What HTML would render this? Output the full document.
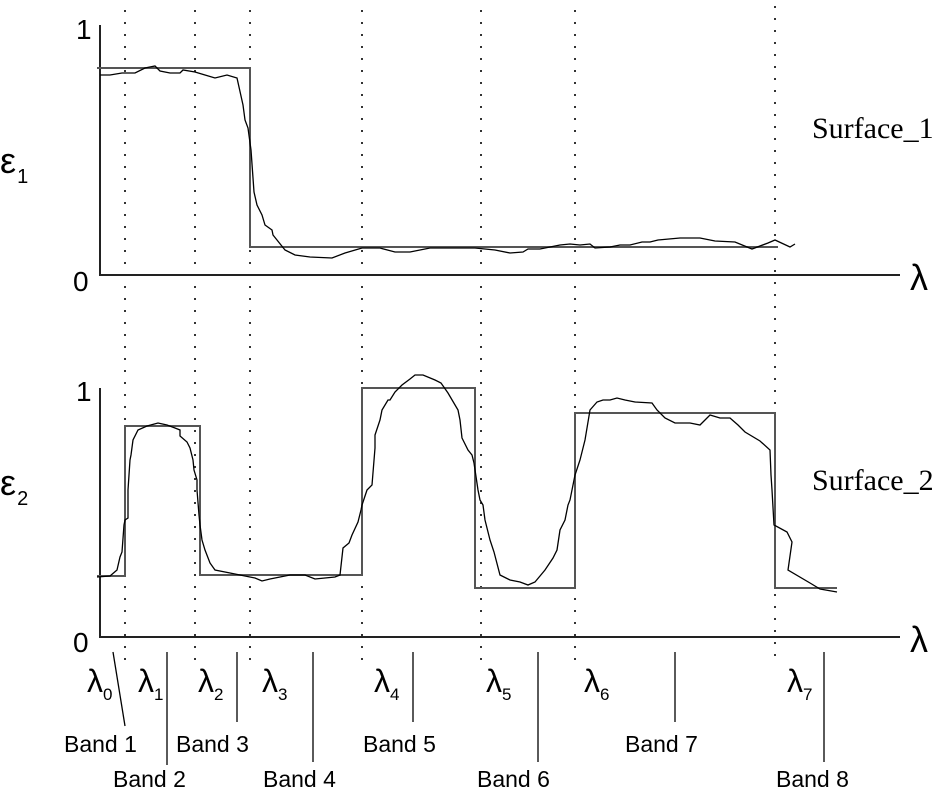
<!DOCTYPE html>
<html><head><meta charset="utf-8"><style>
body{margin:0;background:#fff}
svg{display:block}
.s{font-family:"Liberation Sans",sans-serif}
.r{font-family:"Liberation Serif",serif}
</style></head><body>
<svg width="944" height="788" viewBox="0 0 944 788" xmlns="http://www.w3.org/2000/svg">
<g stroke="#333" stroke-width="2" stroke-dasharray="2,10" fill="none">
<line x1="125" y1="10" x2="125" y2="662"/>
<line x1="195" y1="10" x2="195" y2="662"/>
<line x1="250" y1="10" x2="250" y2="662"/>
<line x1="362" y1="10" x2="362" y2="662"/>
<line x1="481" y1="10" x2="481" y2="662"/>
<line x1="575" y1="10" x2="575" y2="662"/>
<line x1="775" y1="6" x2="775" y2="662"/>
</g>
<g stroke="#222" stroke-width="2" fill="none">
<polyline points="100,25 100,275 900,275"/>
<polyline points="100,388 100,637 900,637"/>
</g>
<g stroke="#555" stroke-width="2" fill="none">
<polyline points="97,68 250,68 250,247 778,247"/>
<polyline points="97,576 125,576 125,426 200,426 200,575 362,575 362,388 475,388 475,588 575,588 575,413 775,413 775,588 837,588"/>
</g>
<g stroke="#000" stroke-width="1.3" fill="none">
<polyline points="100,75 110,75 122,73 135,73 145,68 155,66 160,71 170,73 180,73 183,70 195,72 205,75 215,78 227,75 237,78 243,105 245,120 248,128 251,150 254,192 257,205 262,215 265,225 272,230 273,235 285,250 295,255 310,257 332,258 345,253 362,248 380,248 395,252 410,252 430,248 475,248 495,250 510,253 523,252 528,249 540,249 550,247 560,245 570,244 580,245 590,244 595,248 610,247 620,245 630,245 642,242 650,242 658,240 680,238 700,238 715,241 735,242 752,249 768,243 775,240 790,247 795,244"/>
<polyline points="97,577 110,576 117,570 120,557 122,552 124,525 125,520 128,518 128,490 130,460 131,455 133,440 138,430 147,426 158,423 167,425 175,428 180,430 180,436 187,442 190,448 193,460 194,470 197,480 197,490 199,515 200,525 202,540 205,550 210,563 215,570 230,573 255,578 262,581 270,579 290,575 305,575 315,579 335,577 340,575 343,548 349,543 352,535 358,522 361,510 362,505 367,490 372,485 375,448 375,435 380,420 382,410 388,400 390,400 395,392 402,385 410,379 415,375 423,375 435,380 441,383 448,393 458,410 460,420 462,438 468,450 472,455 474,463 478,490 480,500 483,505 485,520 490,540 494,552 500,575 510,580 520,582 528,585 535,582 545,570 553,558 557,550 560,530 565,520 568,505 570,500 575,475 580,460 585,440 590,410 597,402 603,400 610,400 617,398 625,400 635,402 652,403 657,410 665,418 675,423 690,423 700,425 710,415 720,418 730,418 738,425 745,432 760,441 770,450 771,475 772,490 774,525 787,532 792,542 788,570 810,583 820,589 837,592"/>
</g>
<g class="s" font-size="28" fill="#000">
<text x="76" y="39">1</text>
<text x="73" y="291">0</text>
<text x="76" y="401">1</text>
<text x="73" y="652">0</text>
</g>
<g class="s" fill="#000">
<text x="0" y="173" font-size="36">ε<tspan font-size="20" dx="1" dy="10">1</tspan></text>
<text x="0" y="495" font-size="36">ε<tspan font-size="20" dx="1" dy="10">2</tspan></text>
</g>
<g class="r" font-size="30" fill="#000">
<text x="812" y="138">Surface_1</text>
<text x="812" y="490">Surface_2</text>
</g>
<g class="s" font-size="36" fill="#000">
<text x="910" y="290">λ</text>
<text x="910" y="652">λ</text>
</g>
<g class="s" font-size="32" fill="#000">
<text x="87" y="692">λ<tspan font-size="17" dy="8">0</tspan></text>
<text x="138" y="692">λ<tspan font-size="17" dy="8">1</tspan></text>
<text x="198" y="692">λ<tspan font-size="17" dy="8">2</tspan></text>
<text x="262" y="692">λ<tspan font-size="17" dy="8">3</tspan></text>
<text x="374" y="692">λ<tspan font-size="17" dy="8">4</tspan></text>
<text x="486" y="692">λ<tspan font-size="17" dy="8">5</tspan></text>
<text x="584" y="692">λ<tspan font-size="17" dy="8">6</tspan></text>
<text x="787" y="692">λ<tspan font-size="17" dy="8">7</tspan></text>
</g>
<g stroke="#000" stroke-width="1.3">
<line x1="113" y1="652" x2="125" y2="726"/>
<line x1="167" y1="652" x2="167" y2="765"/>
<line x1="237" y1="652" x2="237" y2="722"/>
<line x1="313" y1="652" x2="313" y2="762"/>
<line x1="413" y1="652" x2="413" y2="722"/>
<line x1="538" y1="652" x2="538" y2="762"/>
<line x1="675" y1="652" x2="675" y2="722"/>
<line x1="824" y1="652" x2="824" y2="762"/>
</g>
<g class="s" font-size="23" fill="#000">
<text x="64" y="752">Band 1</text>
<text x="113" y="787">Band 2</text>
<text x="176" y="752">Band 3</text>
<text x="263" y="787">Band 4</text>
<text x="363" y="752">Band 5</text>
<text x="477" y="787">Band 6</text>
<text x="625" y="752">Band 7</text>
<text x="776" y="787">Band 8</text>
</g>
</svg>
</body></html>
